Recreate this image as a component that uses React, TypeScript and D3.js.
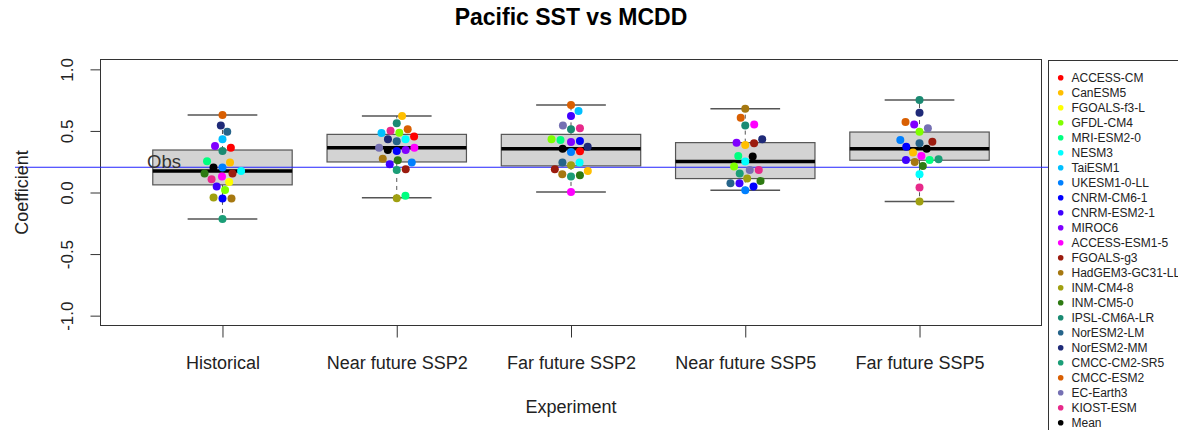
import React, { useEffect, useRef } from "react";
import * as d3 from "d3";

// boxplot + beeswarm of correlation coefficients, one box per experiment

const experiments = ["Historical", "Near future SSP2", "Far future SSP2", "Near future SSP5", "Far future SSP5"];

const models = [
  "ACCESS-CM", "CanESM5", "FGOALS-f3-L", "GFDL-CM4", "MRI-ESM2-0", "NESM3", "TaiESM1", "UKESM1-0-LL",
  "CNRM-CM6-1", "CNRM-ESM2-1", "MIROC6", "ACCESS-ESM1-5", "FGOALS-g3", "HadGEM3-GC31-LL", "INM-CM4-8",
  "INM-CM5-0", "IPSL-CM6A-LR", "NorESM2-LM", "NorESM2-MM", "CMCC-CM2-SR5", "CMCC-ESM2", "EC-Earth3",
  "KIOST-ESM", "Mean",
];

const modelColors = [
  "#FF0000", "#FFBF00", "#FFFF00", "#80FF00", "#00FF80", "#00FFFF", "#00BFFF", "#0080FF",
  "#0000FF", "#4000FF", "#8000FF", "#FF00FF", "#9B1B0E", "#A67810", "#A0A010",
  "#2E7A12", "#1A8A72", "#26648A", "#1F2A78", "#1B9E77", "#D95F02", "#7570B3",
  "#E7298A", "#000000",
];

// null = model not shown for that experiment
const historical = [
  0.364, 0.243, 0.086, 0.021, 0.254, 0.175, 0.432, 0.203, -0.049, 0.048, 0.378, 0.130,
  0.154, -0.049, -0.041, 0.154, 0.337, 0.494, 0.545, -0.216, 0.629, null, 0.108, 0.203,
];
const nearSSP2 = [
  0.454, 0.621, null, 0.486, -0.027, 0.432, 0.483, 0.243, 0.337, 0.229, 0.345, 0.364,
  0.189, 0.275, -0.046, 0.262, 0.562, 0.416, 0.432, 0.183, 0.513, 0.364, 0.502, 0.345,
];
const farSSP2 = [
  0.334, 0.175, null, 0.432, 0.427, 0.243, 0.661, 0.329, 0.418, 0.621, 0.410, 0.005,
  0.189, 0.148, 0.221, 0.140, 0.513, 0.243, 0.372, 0.130, 0.710, 0.545, 0.521, 0.356,
];
const nearSSP5 = [
  null, 0.386, null, 0.211, 0.297, 0.251, null, 0.019, 0.048, 0.075, 0.405, 0.553,
  0.400, 0.681, 0.113, 0.094, 0.545, 0.075, 0.432, 0.154, 0.608, 0.183, 0.183, 0.292,
];
const farSSP5 = [
  null, 0.324, null, 0.494, 0.264, 0.148, null, 0.427, 0.372, 0.264, 0.553, 0.297,
  0.413, 0.248, -0.073, 0.216, 0.751, 0.400, 0.648, 0.270, 0.572, 0.521, 0.040, 0.356,
];

const whiskerLow = [-0.216, -0.043, 0.005, 0.019, -0.073];
const boxLow = [0.062, 0.248, 0.216, 0.113, 0.262];
const medians = [0.175, 0.364, 0.356, 0.251, 0.356];
const boxHigh = [0.345, 0.472, 0.472, 0.405, 0.491];
const whiskerHigh = [0.629, 0.621, 0.710, 0.681, 0.751];

const obsValue = 0.205;
const yTicks = [-1, -0.5, 0, 0.5, 1];

const FONT = "'Liberation Sans', Arial, Helvetica, sans-serif";

// compact swarm, points placed from lowest value up, as close to the centre as they fit
function swarm(ys: number[], spacing: number): number[] {
  const order = ys.map((_, i) => i).sort((a, b) => ys[b] - ys[a] || a - b);
  const xs: number[] = new Array(ys.length).fill(0);
  const placed: number[] = [];
  order.forEach(i => {
    const cands = [0];
    placed.forEach(j => {
      const dy = Math.abs(ys[i] - ys[j]);
      if (dy < spacing) {
        const dx = Math.sqrt(spacing * spacing - dy * dy);
        cands.push(xs[j] + dx, xs[j] - dx);
      }
    });
    const ok = cands.filter(c => placed.every(j => (c - xs[j]) ** 2 + (ys[i] - ys[j]) ** 2 >= spacing * spacing - 1e-6));
    ok.sort((a, b) => Math.abs(a) - Math.abs(b) || b - a);
    xs[i] = ok[0];
    placed.push(i);
  });
  return xs;
}

export default function App() {
  const ref = useRef<SVGSVGElement>(null);

  useEffect(() => {
    const svg = d3.select(ref.current);
    svg.selectAll("*").remove();

    const left = 100.5, right = 1041.5, top = 59.5, bottom = 325.5;
    const x = d3.scaleLinear().domain([0.3, 5.7]).range([left, right]);
    const y = d3.scaleLinear().domain([-1.08, 1.08]).range([bottom, top]);

    // title
    svg.append("text")
      .attr("x", (left + right) / 2).attr("y", 25)
      .attr("text-anchor", "middle")
      .style("font", `bold 23px ${FONT}`)
      .text("Pacific SST vs MCDD");

    // boxes
    const groups = svg.append("g");
    experiments.forEach((_, i) => {
      const cx = x(i + 1);
      const x0 = x(i + 0.6), x1 = x(i + 1.4);
      const s0 = x(i + 0.8), s1 = x(i + 1.2);
      const g = groups.append("g").attr("stroke", "#555");
      g.append("line").attr("x1", cx).attr("x2", cx).attr("y1", y(boxHigh[i])).attr("y2", y(whiskerHigh[i]))
        .attr("stroke-dasharray", "4,4");
      g.append("line").attr("x1", cx).attr("x2", cx).attr("y1", y(boxLow[i])).attr("y2", y(whiskerLow[i]))
        .attr("stroke-dasharray", "4,4");
      g.append("line").attr("x1", s0).attr("x2", s1).attr("y1", y(whiskerHigh[i])).attr("y2", y(whiskerHigh[i])).attr("stroke-width", 1.5);
      g.append("line").attr("x1", s0).attr("x2", s1).attr("y1", y(whiskerLow[i])).attr("y2", y(whiskerLow[i])).attr("stroke-width", 1.5);
      g.append("rect")
        .attr("x", x0).attr("y", y(boxHigh[i]))
        .attr("width", x1 - x0).attr("height", y(boxLow[i]) - y(boxHigh[i]))
        .attr("fill", "#D3D3D3").attr("stroke-width", 1.2);
      g.append("line").attr("x1", x0).attr("x2", x1).attr("y1", y(medians[i])).attr("y2", y(medians[i]))
        .attr("stroke", "#000").attr("stroke-width", 3.5);
    });

    // frame
    svg.append("rect")
      .attr("x", left).attr("y", top).attr("width", right - left).attr("height", bottom - top)
      .attr("fill", "none").attr("stroke", "#333");

    // obs line
    svg.append("line")
      .attr("x1", 15).attr("x2", 1048).attr("y1", y(obsValue)).attr("y2", y(obsValue))
      .attr("stroke", "#2323FF").attr("stroke-width", 1);
    svg.append("text")
      .attr("x", 147).attr("y", y(obsValue) + 1)
      .style("font", `18.5px ${FONT}`).attr("fill", "#333")
      .text("Obs");

    // points
    const series = [historical, nearSSP2, farSSP2, nearSSP5, farSSP5];
    series.forEach((vals, i) => {
      const idx = vals.map((v, k) => k).filter(k => vals[k] !== null);
      const ys = idx.map(k => y(vals[k] as number));
      const xs = swarm(ys, 9);
      const pts = idx.map((k, n) => ({ k, px: x(i + 1) + xs[n], py: ys[n] }));
      svg.append("g").selectAll("circle")
        .data(pts)
        .enter()
        .append("circle")
        .attr("cx", d => d.px)
        .attr("cy", d => d.py)
        .attr("r", 4)
        .attr("fill", d => modelColors[d.k]);
    });

    // y axis
    const ya = svg.append("g")
      .attr("transform", `translate(${left},0)`)
      .call(d3.axisLeft(y).tickValues(yTicks).tickSize(10).tickSizeOuter(0).tickFormat(d => (d as number).toFixed(1)));
    ya.select(".domain").remove();
    ya.selectAll(".tick line").attr("stroke", "#333");
    ya.selectAll(".tick text")
      .attr("x", null).attr("dy", null)
      .attr("transform", "translate(-28,0) rotate(-90)")
      .attr("text-anchor", "middle")
      .attr("fill", "#222")
      .style("font", `17px ${FONT}`);

    // x axis
    const xa = svg.append("g")
      .attr("transform", `translate(0,${bottom})`)
      .call(d3.axisBottom(x).tickValues([1, 2, 3, 4, 5]).tickSize(12).tickSizeOuter(0).tickFormat(d => experiments[(d as number) - 1]));
    xa.select(".domain").remove();
    xa.selectAll(".tick line").attr("stroke", "#333");
    xa.selectAll(".tick text")
      .attr("dy", null).attr("y", 43.5)
      .attr("fill", "#222")
      .style("font", `18px ${FONT}`);

    // axis titles
    svg.append("text")
      .attr("transform", `translate(28,${(top + bottom) / 2}) rotate(-90)`)
      .attr("text-anchor", "middle")
      .attr("fill", "#222")
      .style("font", `18px ${FONT}`)
      .text("Coefficient");
    svg.append("text")
      .attr("x", (left + right) / 2).attr("y", 413)
      .attr("text-anchor", "middle")
      .attr("fill", "#222")
      .style("font", `18px ${FONT}`)
      .text("Experiment");

    // legend
    const lg = svg.append("g");
    lg.append("rect")
      .attr("x", 1048.5).attr("y", 60.5).attr("width", 200).attr("height", 380)
      .attr("fill", "#fff").attr("stroke", "#333");
    const items = lg.selectAll("g.item")
      .data(models)
      .enter()
      .append("g")
      .attr("transform", (d, i) => `translate(0,${77.7 + i * 15.0})`);
    items.append("circle").attr("cx", 1060.7).attr("cy", 0).attr("r", 2.8).attr("fill", (d, i) => modelColors[i]);
    items.append("text")
      .attr("x", 1071.5).attr("y", 4.3)
      .attr("fill", "#222")
      .style("font", `12px ${FONT}`)
      .text(d => d);
  }, []);

  return (
    <svg ref={ref} width={1178} height={430}
      style={{ position: "absolute", left: 0, top: 0, background: "#fff" }} />
  );
}
